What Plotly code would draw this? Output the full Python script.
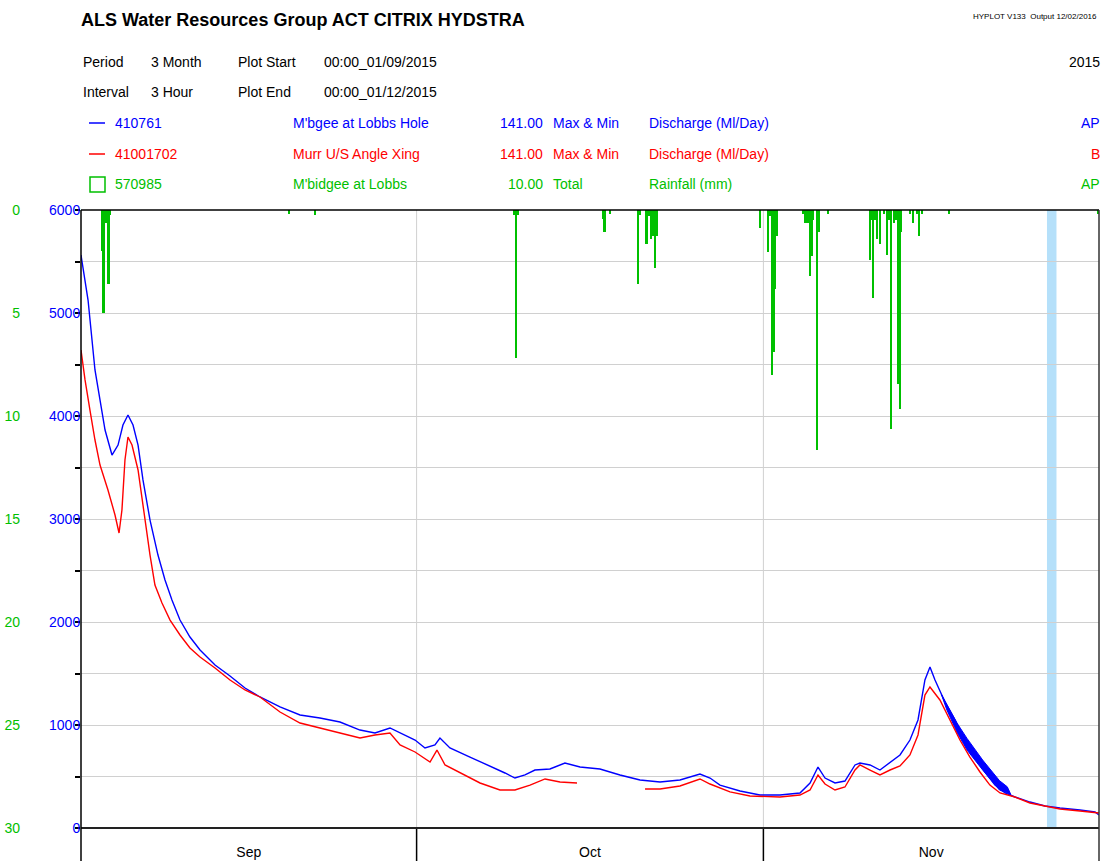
import pandas as pd
import plotly.graph_objects as go

# ---------------- data ----------------
PLOT_START = "2015-09-01"
PLOT_END = "2015-12-01"

# 410761 M'bgee at Lobbs Hole (Ml/Day) – day offset from plot start
blue_day = [0.0, 0.63, 1.25, 1.70, 2.15, 2.77, 3.31, 3.75, 4.20, 4.65, 5.10, 5.54, 6.17, 6.88,
            7.51, 8.13, 8.85, 9.74, 10.64, 11.98, 13.32, 14.66, 16.0, 17.79, 19.58, 21.36,
            23.15, 24.94, 26.28, 27.62, 28.52, 29.86, 30.75, 31.64, 32.09, 32.98, 34.77, 36.56,
            37.90, 38.79, 39.69, 40.58, 41.92, 43.26, 44.61, 46.39, 48.18, 49.97, 51.76, 53.54,
            55.33, 56.23, 57.12, 58.91, 60.69, 62.48, 64.27, 65.17, 65.88, 66.51, 67.40, 68.29,
            69.19, 69.63, 70.53, 71.42, 72.32, 73.21, 74.10, 74.82, 75.44, 75.89, 76.34, 77.23,
            78.13, 79.02, 79.91, 80.81, 81.70, 82.60, 83.49, 84.83, 86.17, 87.51, 89.30, 90.64,
            91.0]
blue_flow = [5563, 5126, 4447, 4155, 3864, 3621, 3718, 3913, 4010, 3913, 3718, 3379, 2990, 2650,
             2408, 2214, 2019, 1854, 1728, 1583, 1476, 1359, 1272, 1175, 1097, 1068,
             1029, 951, 922, 971, 922, 854, 777, 806, 874, 777, 689, 602,
             534, 485, 515, 563, 573, 631, 592, 573, 515, 466, 447, 466,
             524, 485, 417, 359, 320, 320, 340, 437, 592, 485, 437, 456,
             612, 631, 612, 563, 641, 709, 854, 1049, 1437, 1563, 1437, 1223,
             1049, 854, 689, 544, 417, 340, 301, 252, 214, 194, 175, 155,
             126]

# spread between 3-hour max and min of 410761 during the November recession
blue_env_day = [76.9, 77.4, 78.3, 79.2, 80.6, 82.1, 82.8, 83.1]
blue_env_high = [1300, 1200, 1020, 870, 660, 460, 400, 330]
blue_env_low = [1300, 1146, 930, 757, 563, 369, 340, 320]

# 41001702 Murr U/S Angle Xing (Ml/Day); None marks the missing record
red_day = [0.0, 0.36, 0.80, 1.25, 1.70, 2.41, 3.04, 3.40, 3.66, 3.93, 4.20, 4.56, 5.10, 5.72,
           6.17, 6.61, 7.24, 7.96, 8.85, 9.74, 10.64, 11.98, 13.32, 14.66, 16.0, 17.79, 19.58,
           21.36, 23.15, 24.94, 26.28, 27.62, 28.52, 29.86, 31.20, 31.82, 32.54, 33.88, 35.67,
           37.45, 38.79, 40.14, 41.48, 42.82, 44.34, 47.0, 50.42, 51.76, 53.54, 55.33, 56.23,
           58.01, 59.80, 62.48, 64.27, 65.17, 65.88, 66.51, 67.40, 68.29, 69.19, 69.63, 70.53,
           71.42, 72.32, 73.21, 74.10, 74.82, 75.44, 75.89, 76.78, 77.68, 78.57, 79.46, 80.36,
           81.25, 82.15, 83.49, 84.83, 86.17, 87.51, 89.30, 91.0]
red_flow = [4641, 4350, 4058, 3767, 3524, 3282, 3039, 2864, 3087, 3573, 3796, 3718, 3476, 2990,
            2650, 2359, 2184, 2019, 1874, 1748, 1660, 1553, 1437, 1340, 1272, 1126, 1019,
            971, 922, 874, 903, 922, 806, 738, 641, 757, 612, 534, 437,
            369, 369, 417, 476, 447, 437, None, 379, 379, 408, 476, 427,
            350, 311, 301, 320, 369, 515, 427, 369, 398, 563, 612, 563,
            515, 563, 602, 709, 903, 1291, 1369, 1243, 1049, 854, 689, 544,
            417, 340, 301, 243, 214, 184, 165, 146]

# 570985 M'bidgee at Lobbs rainfall (mm)
rain_day = [1.92, 2.01, 2.15, 2.28, 2.46, 2.59, 18.59, 20.92, 38.71, 38.86, 39.02, 46.66, 46.80,
            47.29, 49.79, 49.97, 50.55, 50.78, 50.95, 51.13, 51.31, 51.46, 60.70, 61.41, 61.59,
            61.80, 61.90, 62.06, 62.24, 64.54, 64.76, 64.96, 65.14, 65.32, 65.46, 65.79, 65.94,
            66.80, 70.53, 70.68, 70.80, 70.98, 71.16, 71.40, 71.78, 72.05, 72.23, 72.43, 72.65,
            72.85, 73.03, 73.18, 73.33, 74.10, 74.40, 74.70, 74.93, 75.18, 77.62, 90.95]
rain_mm = [2.0, 5.0, 0.65, 0.65, 3.6, 0.25, 0.2, 0.25, 0.25, 7.2, 0.25, 0.45, 1.05,
           0.2, 3.6, 0.25, 1.65, 0.3, 1.4, 1.25, 2.8, 1.25, 0.85, 2.05, 0.3,
           8.0, 6.9, 3.85, 1.25, 0.2, 0.65, 0.65, 3.2, 2.25, 0.5, 11.65, 1.05,
           0.2, 2.45, 0.5, 4.25, 0.5, 1.4, 1.65, 0.2, 2.2, 0.5, 10.65, 0.65,
           0.5, 8.45, 9.65, 1.05, 0.2, 0.65, 0.2, 1.25, 0.2, 0.2, 0.2]

band_day = [86.35, 87.2]
month_names = ["Sep", "Oct", "Nov"]
month_starts = ["2015-09-01", "2015-10-01", "2015-11-01", "2015-12-01"]
flow_ticks = [0, 1000, 2000, 3000, 4000, 5000, 6000]
rain_ticks = [0, 5, 10, 15, 20, 25, 30]

# ---------------- helpers ----------------
start = pd.Timestamp(PLOT_START)
def to_time(days):
    return [None if d is None else start + pd.to_timedelta(d, unit="D") for d in days]

BLUE = "#0000ff"
RED = "#ff0000"
GREEN = "#00c000"
FONT = "Liberation Sans, Arial, sans-serif"
FS = 14

# layout geometry (pixels)
W, H = 1107, 861
L, R, T, B = 81, 1099, 210, 828
def px(x):
    return (x - L) / (R - L)
def py(y):
    return (B - y) / (B - T)

fig = go.Figure()

fig.add_trace(go.Bar(
    x=to_time(rain_day), y=rain_mm, base=0, yaxis="y2",
    marker=dict(color=GREEN, line=dict(width=0)), width=1.7e7, showlegend=False))

env_t = to_time(blue_env_day)
fig.add_trace(go.Scatter(
    x=env_t + env_t[::-1], y=blue_env_high + blue_env_low[::-1], mode="lines",
    fill="toself", fillcolor=BLUE, line=dict(color=BLUE, width=1), showlegend=False))
fig.add_trace(go.Scatter(
    x=to_time(blue_day), y=blue_flow, mode="lines",
    line=dict(color=BLUE, width=1.4), showlegend=False))
fig.add_trace(go.Scatter(
    x=to_time(red_day), y=red_flow, mode="lines", connectgaps=False,
    line=dict(color=RED, width=1.4), showlegend=False))

ms = [pd.Timestamp(m) for m in month_starts]
mids = [ms[i] + (ms[i + 1] - ms[i]) / 2 for i in range(len(month_names))]

shapes = []
# missing-data band
shapes.append(dict(type="rect", xref="x", yref="paper",
                   x0=to_time([band_day[0]])[0], x1=to_time([band_day[1]])[0], y0=0, y1=1,
                   fillcolor="#b5e0fa", line=dict(width=0), layer="below"))
# month gridlines inside and separators below
for m in ms[1:-1]:
    shapes.append(dict(type="line", xref="x", yref="paper", x0=m, x1=m, y0=0, y1=1,
                       line=dict(color="#d0d0d0", width=1), layer="below"))
    shapes.append(dict(type="line", xref="x", yref="paper", x0=m, x1=m, y0=py(H), y1=0,
                       line=dict(color="black", width=1.5)))
# frame
shapes.append(dict(type="line", xref="paper", yref="paper", x0=0, x1=1, y0=1, y1=1,
                   line=dict(color="black", width=1.5)))
shapes.append(dict(type="line", xref="paper", yref="paper", x0=0, x1=1, y0=0, y1=0,
                   line=dict(color="#222222", width=2)))
shapes.append(dict(type="line", xref="paper", yref="paper", x0=0, x1=0, y0=py(H), y1=1,
                   line=dict(color="black", width=1.5)))
shapes.append(dict(type="line", xref="paper", yref="paper", x0=1, x1=1, y0=py(H), y1=1,
                   line=dict(color="#333333", width=1.5)))
# legend glyphs
shapes.append(dict(type="line", xref="paper", yref="paper", x0=px(89), x1=px(105),
                   y0=py(123), y1=py(123), line=dict(color=BLUE, width=1.5)))
shapes.append(dict(type="line", xref="paper", yref="paper", x0=px(89), x1=px(105),
                   y0=py(154), y1=py(154), line=dict(color=RED, width=1.5)))
shapes.append(dict(type="rect", xref="paper", yref="paper", x0=px(90), x1=px(105),
                   y0=py(192), y1=py(177), line=dict(color=GREEN, width=1.5)))

ann = []
def text(x, y, s, color="black", size=FS, anchor="left", bold=False):
    ann.append(dict(xref="paper", yref="paper", x=px(x), y=py(y), text=("<b>%s</b>" % s) if bold else s,
                    showarrow=False, xanchor=anchor, yanchor="middle",
                    font=dict(family=FONT, size=size, color=color)))

text(79, 20, "ALS Water Resources Group ACT CITRIX HYDSTRA", size=18, bold=True)
text(1099, 16, "HYPLOT V133  Output 12/02/2016", size=8, anchor="right")
text(81, 62, "Period"); text(149, 62, "3 Month"); text(236, 62, "Plot Start"); text(322, 62, "00:00_01/09/2015")
text(81, 92, "Interval"); text(149, 92, "3 Hour"); text(236, 92, "Plot End"); text(322, 92, "00:00_01/12/2015")
text(1102, 62, "2015", anchor="right")

rows = [
    (123, BLUE, "410761", "M'bgee at Lobbs Hole", "141.00", "Max & Min", "Discharge (Ml/Day)", "AP"),
    (154, RED, "41001702", "Murr U/S Angle Xing", "141.00", "Max & Min", "Discharge (Ml/Day)", "B"),
    (184, GREEN, "570985", "M'bidgee at Lobbs", "10.00", "Total", "Rainfall (mm)", "AP"),
]
for y, c, site, name, val, stat, var, q in rows:
    text(113, y, site, c)
    text(291, y, name, c)
    text(545, y, val, c, anchor="right")
    text(551, y, stat, c)
    text(647, y, var, c)
    text(1102, y, q, c, anchor="right")

fig.update_layout(
    width=W, height=H,
    margin=dict(l=L, r=W - R, t=T, b=H - B, pad=0, autoexpand=False),
    paper_bgcolor="white", plot_bgcolor="white",
    showlegend=False, bargap=0,
    font=dict(family=FONT, size=FS, color="black"),
    shapes=shapes, annotations=ann,
    xaxis=dict(type="date", range=[ms[0], ms[-1]], showgrid=False, zeroline=False,
               showline=False, tickmode="array", tickvals=mids, ticktext=month_names,
               ticks="", tickfont=dict(family=FONT, size=FS, color="black"),
               ticklabelstandoff=14, automargin=False),
    yaxis=dict(range=[0, 6000], tickmode="array", tickvals=flow_ticks,
               ticktext=[str(v) for v in flow_ticks],
               ticks="outside", ticklen=5, tickcolor="black", tickwidth=1.5,
               tickfont=dict(family=FONT, size=FS, color=BLUE),
               showgrid=True, gridcolor="#d0d0d0", gridwidth=1,
               minor=dict(dtick=500, tick0=0, ticks="outside", ticklen=5, tickcolor="black",
                          showgrid=True, gridcolor="#d0d0d0", gridwidth=1),
               zeroline=False, showline=False, ticklabelstandoff=-8, automargin=False),
    yaxis2=dict(range=[30, 0], overlaying="y", side="left", anchor="free", position=0,
                tickmode="array", tickvals=rain_ticks, ticktext=[str(v) for v in rain_ticks],
                ticks="", showgrid=False, zeroline=False, showline=False,
                tickfont=dict(family=FONT, size=FS, color=GREEN), ticklabelstandoff=61,
                automargin=False),
)

fig.write_html("out.html", config={"displayModeBar": False},
               post_script="document.body.style.margin='0';document.body.style.overflow='hidden';")
